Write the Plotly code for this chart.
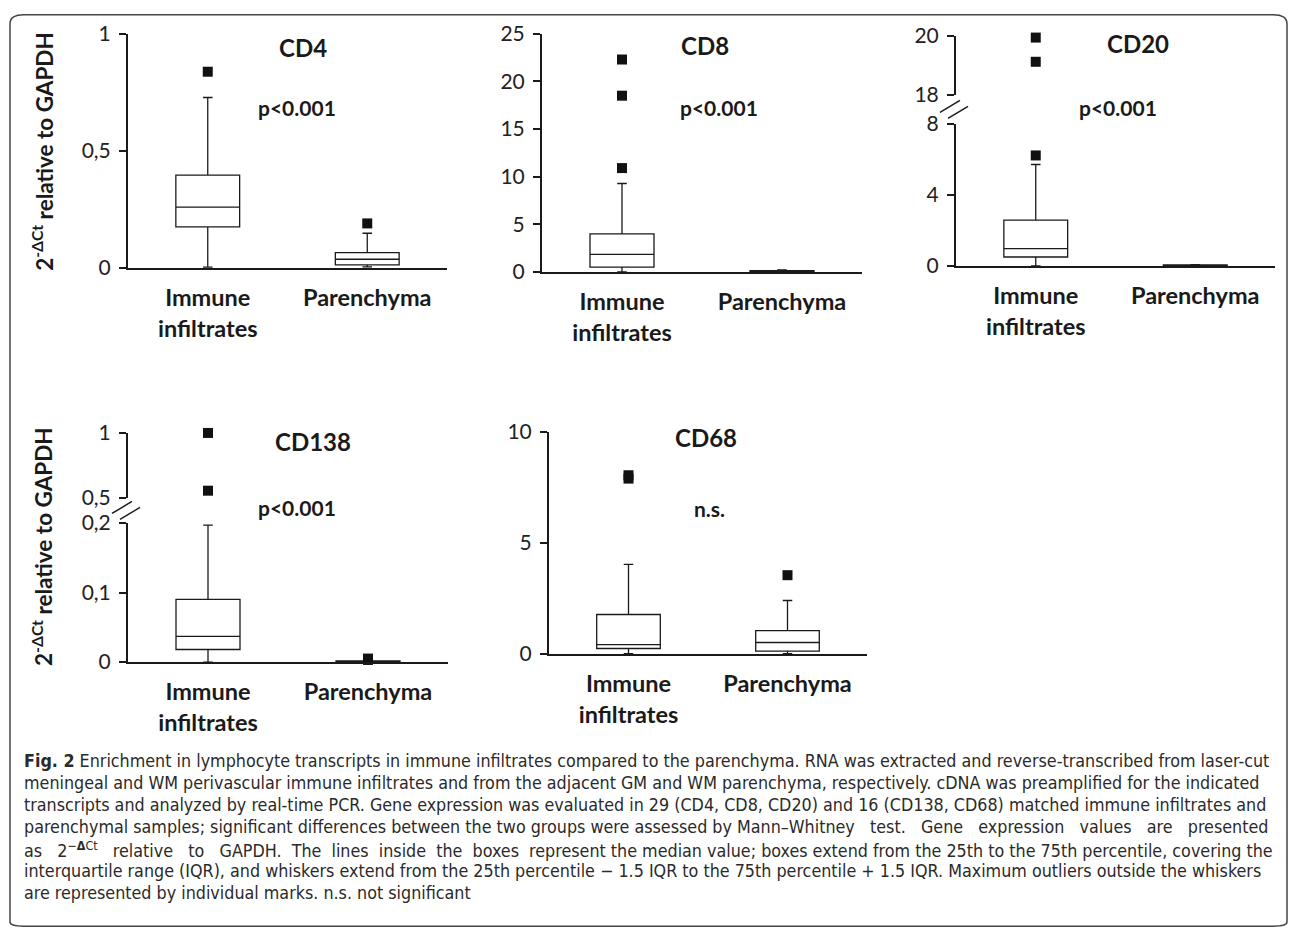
import plotly.graph_objects as go

W, H = 1290, 938

# ---------------- data ----------------
categories = ["Immune infiltrates", "Parenchyma"]
cat_labels = ["Immune<br>infiltrates", "Parenchyma"]

cd4_q1 = [0.175, 0.013]
cd4_med = [0.26, 0.037]
cd4_q3 = [0.396, 0.065]
cd4_lo = [0.003, 0.004]
cd4_hi = [0.728, 0.148]
cd4_out_imm = [0.838]
cd4_out_par = [0.19]

cd8_q1 = [0.5, 0.03]
cd8_med = [1.83, 0.07]
cd8_q3 = [4.0, 0.12]
cd8_lo = [0.0, 0.0]
cd8_hi = [9.28, 0.22]
cd8_out_imm = [10.9, 18.5, 22.3]
cd8_out_par = []

cd20_q1 = [0.5, 0.01]
cd20_med = [0.97, 0.03]
cd20_q3 = [2.58, 0.05]
cd20_lo = [0.0, 0.0]
cd20_hi = [5.71, 0.07]
cd20_out_imm_low = [6.22]
cd20_out_imm_high = [19.12, 19.94]

cd138_q1 = [0.018, 0.0005]
cd138_med = [0.037, 0.001]
cd138_q3 = [0.09, 0.0015]
cd138_lo = [0.0, 0.0]
cd138_hi = [0.197, 0.002]
cd138_out_imm_high = [0.556, 1.0]
cd138_out_par_low = [0.003, 0.005]

cd68_q1 = [0.25, 0.13]
cd68_med = [0.42, 0.52]
cd68_q3 = [1.78, 1.05]
cd68_lo = [0.02, 0.02]
cd68_hi = [4.04, 2.41]
cd68_out_imm = [7.9, 8.05]
cd68_out_par = [3.55]

panel_titles = ["CD4", "CD8", "CD20", "CD138", "CD68"]
panel_stats = ["p<0.001", "p<0.001", "p<0.001", "p<0.001", "n.s."]

y_title = "2<sup>-ΔCt</sup> relative to GAPDH"

NB = "&nbsp;"
caption_lines = [
    "<b>Fig. 2</b> Enrichment in lymphocyte transcripts in immune infiltrates compared to the parenchyma. RNA was extracted and reverse-transcribed from laser-cut",
    "meningeal and WM perivascular immune infiltrates and from the adjacent GM and WM parenchyma, respectively. cDNA was preamplified for the indicated",
    "transcripts and analyzed by real-time PCR. Gene expression was evaluated in 29 (CD4, CD8, CD20) and 16 (CD138, CD68) matched immune infiltrates and",
    "parenchymal samples; significant differences between the two groups were assessed by Mann–Whitney"
    + " {0}test.{0} Gene{0} expression{0} values{0} are{0} presented".format(NB * 2),
    ("as{0} 2<sup>−<b>Δ</b>Ct</sup>{0} relative{0} to{0} GAPDH.{1}The{1}lines{1}inside{1}the{1}boxes{1}represent the median value;"
     " boxes extend from the 25th to the 75th percentile, covering the").format(NB * 2, " " + NB),
    "interquartile range (IQR), and whiskers extend from the 25th percentile − 1.5 IQR to the 75th percentile + 1.5 IQR. Maximum outliers outside the whiskers",
    "are represented by individual marks. n.s. not significant",
]

# ---------------- layout geometry (pixels) ----------------
# the photographed page maps figure y (px) to picture y as  y_pic = A_Y * y + B_Y ;
# positions below are picture pixels and are converted back to figure coordinates.
A_Y, B_Y = 0.973, 13.2


def px(x):
    return x / W


def py(y):
    yf = (y - B_Y) / A_Y
    yf = min(max(yf, 0.75), H - 0.75)
    return 1 - yf / H


FONT = "Lato, Carlito, Calibri, sans-serif"
CAP_FONT = "Liberation Sans Narrow, DejaVu Sans Condensed, sans-serif"
INK = "#1a1a1a"

fig = go.Figure()

panels = {
    "CD4": (128, 447, [(33, 267, [0, 1], 0.5)]),
    "CD8": (542, 862, [(33, 271, [0, 25], 5)]),
    "CD20": (956, 1275, [(123, 265, [0, 8], 4), (35, 94, [18, 20], 2)]),
    "CD138": (128, 448, [(522, 661, [0, 0.2], 0.1), (432, 497, [0.5, 1], 0.5)]),
    "CD68": (549, 867, [(431, 653, [0, 10], 5)]),
}

axis_ids = {}
yi = 1
xi = 1
for name, (x0, x1, segs) in panels.items():
    xa = "xaxis" if xi == 1 else f"xaxis{xi}"
    xid = "x" if xi == 1 else f"x{xi}"
    ylist = []
    for s, (yt, yb, yr, dt) in enumerate(segs):
        ya = "yaxis" if yi == 1 else f"yaxis{yi}"
        yid = "y" if yi == 1 else f"y{yi}"
        fig.layout[ya] = dict(
            domain=[py(yb), py(yt)], range=yr, dtick=dt, tick0=yr[0] if s else 0,
            anchor=xid, showline=True, linecolor=INK, linewidth=2,
            ticks="outside", ticklen=7, tickwidth=1.5, tickcolor=INK,
            showgrid=False, zeroline=False,
            tickfont=dict(family=FONT, size=21, color="#222"),
            ticklabelstandoff=4, fixedrange=True,
        )
        ylist.append(yid)
        yi += 1
    fig.layout[xa] = dict(
        domain=[px(x0), px(x1)], range=[-0.5, 1.5], anchor=ylist[0],
        showline=True, linecolor=INK, linewidth=2, ticks="",
        tickvals=[0, 1], ticktext=cat_labels,
        tickfont=dict(family=FONT, size=23.5, color=INK, weight="bold"),
        ticklabelstandoff=8, showgrid=False, zeroline=False, fixedrange=True,
    )
    axis_ids[name] = (xid, ylist)
    xi += 1


def add_box(name, q1, med, q3, lo, hi, seg=0):
    xid, ylist = axis_ids[name]
    fig.add_trace(go.Box(
        x=[0, 1], q1=q1, median=med, q3=q3, lowerfence=lo, upperfence=hi,
        xaxis=xid, yaxis=ylist[seg], width=0.4, whiskerwidth=0.15,
        fillcolor="white", line=dict(color=INK, width=1.3),
        boxpoints=False, showlegend=False, hoverinfo="skip",
    ))


def add_out(name, cat, vals, seg=0):
    if not vals:
        return
    xid, ylist = axis_ids[name]
    fig.add_trace(go.Scatter(
        x=[cat] * len(vals), y=vals, xaxis=xid, yaxis=ylist[seg], mode="markers",
        marker=dict(symbol="square", size=10, color="#111"),
        cliponaxis=False, showlegend=False, hoverinfo="skip",
    ))


add_box("CD4", cd4_q1, cd4_med, cd4_q3, cd4_lo, cd4_hi)
add_out("CD4", 0, cd4_out_imm)
add_out("CD4", 1, cd4_out_par)

add_box("CD8", cd8_q1, cd8_med, cd8_q3, cd8_lo, cd8_hi)
add_out("CD8", 0, cd8_out_imm)
add_out("CD8", 1, cd8_out_par)

add_box("CD20", cd20_q1, cd20_med, cd20_q3, cd20_lo, cd20_hi)
add_out("CD20", 0, cd20_out_imm_low)
add_out("CD20", 0, cd20_out_imm_high, seg=1)

add_box("CD138", cd138_q1, cd138_med, cd138_q3, cd138_lo, cd138_hi)
add_out("CD138", 0, cd138_out_imm_high, seg=1)
add_out("CD138", 1, cd138_out_par_low)

add_box("CD68", cd68_q1, cd68_med, cd68_q3, cd68_lo, cd68_hi)
add_out("CD68", 0, cd68_out_imm)
add_out("CD68", 1, cd68_out_par)

annotations = []
title_pos = {"CD4": (303, 47), "CD8": (705, 45), "CD20": (1138, 43), "CD138": (313, 441), "CD68": (706, 437)}
stat_pos = {"CD4": (297, 107), "CD8": (719, 107), "CD20": (1118, 107), "CD138": (297, 507), "CD68": (709, 508)}
for t, s in zip(panel_titles, panel_stats):
    tx, ty = title_pos[t]
    annotations.append(dict(x=px(tx), y=py(ty), xref="paper", yref="paper", text=f"<b>{t}</b>",
                            showarrow=False, font=dict(family=FONT, size=24, color=INK),
                            xanchor="center", yanchor="middle"))
    sx, sy = stat_pos[t]
    annotations.append(dict(x=px(sx), y=py(sy), xref="paper", yref="paper", text=f"<b>{s}</b>",
                            showarrow=False, font=dict(family=FONT, size=21, color=INK),
                            xanchor="center", yanchor="middle"))

for yc in (151, 546):
    annotations.append(dict(x=px(42), y=py(yc), xref="paper", yref="paper", text=f"<b>{y_title}</b>",
                            showarrow=False, textangle=-90, font=dict(family=FONT, size=22.5, color=INK),
                            xanchor="center", yanchor="middle"))

cap_top = 760
cap_step = 22
for i, line in enumerate(caption_lines):
    annotations.append(dict(x=px(22), y=py(cap_top + i * cap_step), xref="paper", yref="paper",
                            text=line, showarrow=False, align="left",
                            font=dict(family=CAP_FONT, size=17.75, color="#2a2a2a"),
                            xanchor="left", yanchor="middle"))

shapes = []


def break_marks(xaxis_px, y_lo_top, y_up_bot):
    ym = (y_lo_top + y_up_bot) / 2
    for dx, dy in ((-6, -3), (2, 3)):
        shapes.append(dict(type="line", xref="paper", yref="paper",
                           x0=px(xaxis_px - 10 + dx), y0=py(ym + 6 + dy),
                           x1=px(xaxis_px + 10 + dx), y1=py(ym - 6 + dy),
                           line=dict(color=INK, width=1.5)))


break_marks(956, 123, 94)
break_marks(128, 522, 497)

r = 14
x0f, y0f, x1f, y1f = 10, 9, 1287, 935
pts = [("M", x0f + r, y0f), ("L", x1f - r, y0f), ("Q", x1f, y0f, x1f, y0f + r),
       ("L", x1f, y1f - r), ("Q", x1f, y1f, x1f - r, y1f), ("L", x0f + r, y1f),
       ("Q", x0f, y1f, x0f, y1f - r), ("L", x0f, y0f + r), ("Q", x0f, y0f, x0f + r, y0f)]
path = ""
for seg in pts:
    cmd, *c = seg
    coords = " ".join(f"{px(c[i]):.5f},{py(c[i + 1]):.5f}" for i in range(0, len(c), 2))
    path += f"{cmd} {coords} "
path += "Z"
shapes.append(dict(type="path", xref="paper", yref="paper", path=path,
                   line=dict(color="#444", width=1.5), fillcolor="rgba(0,0,0,0)"))

fig.update_layout(
    width=W, height=H, margin=dict(l=0, r=0, t=0, b=0),
    paper_bgcolor="white", plot_bgcolor="white",
    separators=",.", showlegend=False,
    annotations=annotations, shapes=shapes,
    font=dict(family=FONT, color=INK),
)

fig.write_html(
    "out.html",
    post_script="document.body.style.margin='0';document.documentElement.style.overflow='hidden';",
)
